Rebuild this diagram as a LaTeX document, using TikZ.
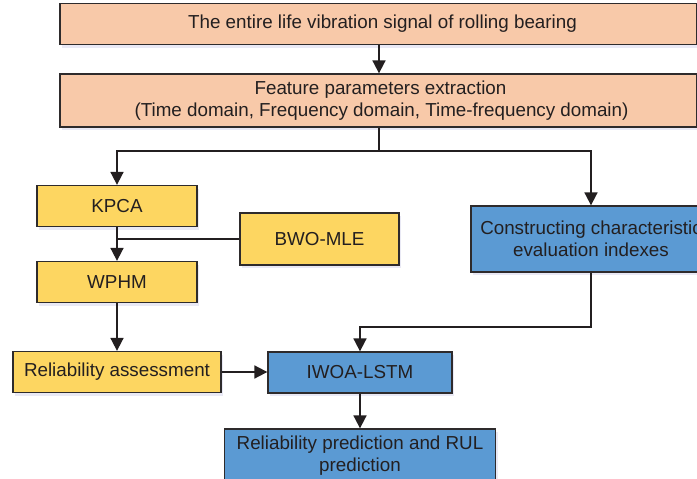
\documentclass[tikz,border=0pt]{standalone}
\usepackage{fontspec}
\setmainfont{Liberation Sans}
\usetikzlibrary{arrows.meta,shadows}
\definecolor{salmon}{HTML}{F8C9A9}
\definecolor{ylw}{HTML}{FDD661}
\definecolor{blu}{HTML}{5B9AD3}
\definecolor{ink}{HTML}{231F20}
\definecolor{edge}{HTML}{2E2B2C}
\begin{document}
\begin{tikzpicture}[x=1pt,y=-1pt,
  box/.style={draw=edge,line width=1.3pt,inner sep=0pt,align=center,text=ink,
    font=\fontsize{18.8}{22}\selectfont,
    drop shadow={opacity=0.12,shadow xshift=2pt,shadow yshift=-3pt,fill=blue!40!gray}},
  sbox/.style={box,fill=salmon},
  ybox/.style={box,fill=ylw},
  bbox/.style={box,fill=blu},
  conn/.style={draw=ink,line width=1.8pt},
  arr/.style={conn,-{Triangle[length=13pt,width=13pt]}}]
\useasboundingbox (0,0) rectangle (697,479);
\clip (0,0) rectangle (697,479);
\fill[white] (0,0) rectangle (697,479);
\node[sbox,minimum width=637pt,minimum height=41pt] (sig) at (378.5,24) {\hspace*{8pt}The entire life vibration signal of rolling bearing};
\node[sbox,minimum width=637pt,minimum height=53pt] (feat) at (378.5,100.5) {\hspace*{4pt}Feature parameters extraction\\\hspace*{6pt}(Time domain, Frequency domain, Time-frequency domain)};
\node[ybox,minimum width=160pt,minimum height=41pt] (kpca) at (117,206) {KPCA};
\node[ybox,minimum width=159pt,minimum height=52pt] (bwo) at (319.5,239) {BWO-MLE};
\node[ybox,minimum width=160pt,minimum height=41pt] (wphm) at (117,282) {WPHM};
\node[ybox,minimum width=208pt,minimum height=41pt] (rel) at (117,372) {Reliability assessment};
\node[bbox,minimum width=240pt,minimum height=66pt] (con) at (591,239) {Constructing characteristic\\evaluation indexes};
\node[bbox,minimum width=184pt,minimum height=41pt] (iwoa) at (360,372.5) {IWOA-LSTM};
\node[bbox,minimum width=271pt,minimum height=54pt] (pred) at (360,456) {Reliability prediction and RUL\\prediction};
\coordinate (split) at (379,151);
\draw[arr] (sig.south -| split) -- (feat.north -| split);
\draw[conn] (feat.south -| split) -- (split);
\draw[arr] (split) -| (kpca.north);
\draw[arr] (split) -| (con.north);
\draw[arr] (kpca.south) -- (wphm.north);
\draw[conn] (bwo.west) -- (bwo.west -| kpca.south);
\draw[arr] (wphm.south) -- (rel.north);
\draw[arr] (rel.east) -- (rel.east -| iwoa.west);
\coordinate (bend) at (591,327);
\draw[arr] (con.south) -- (bend) -| (iwoa.north);
\draw[arr] (iwoa.south) -- (pred.north);
\end{tikzpicture}
\end{document}
